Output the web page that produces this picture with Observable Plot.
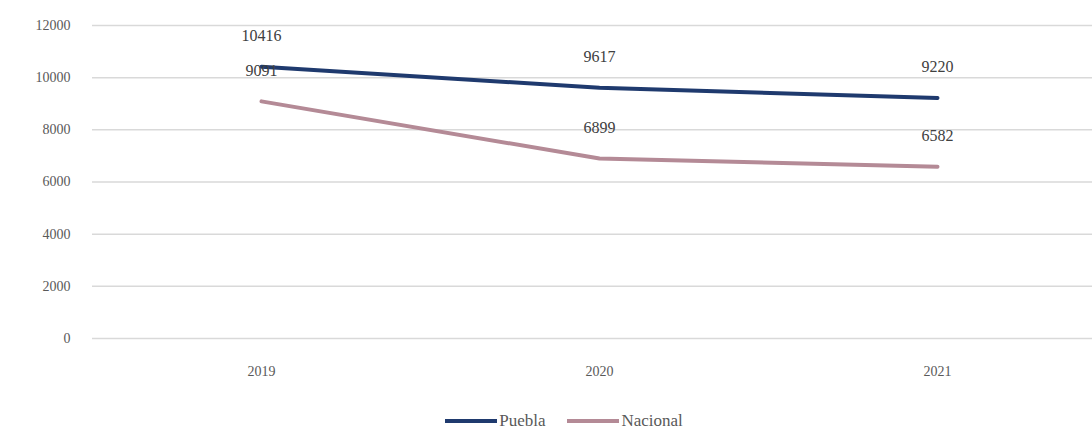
<!DOCTYPE html>
<html><head><meta charset="utf-8">
<script src="https://cdn.jsdelivr.net/npm/d3@7"></script>
<script src="https://cdn.jsdelivr.net/npm/@observablehq/plot@0.6"></script>
<style>
body{margin:0;background:#fff;font-family:"Liberation Serif","DejaVu Serif",serif;}
#legend{display:flex;justify-content:center;align-items:center;gap:22px;height:37px;font-size:17px;color:#595959;padding-left:36px;padding-top:17px}
#legend span.item{display:flex;align-items:center}
#legend span.sw{display:inline-block;width:52px;height:4px;margin-right:2px}
</style></head>
<body><div id="chart"></div><div id="legend"></div>
<script>
const years = ["2019","2020","2021"];
const puebla = [10416, 9617, 9220];
const nacional = [9091, 6899, 6582];
const seriesNames = ["Puebla","Nacional"];
const colors = ["#1f3a6e","#b48a96"];
const yTicks = [0,2000,4000,6000,8000,10000,12000];

const data = [];
years.forEach((y,i)=>{ data.push({year:y, value:puebla[i], s:"Puebla"}); data.push({year:y, value:nacional[i], s:"Nacional"}); });

const chart = Plot.plot({
  width:1092, height:385,
  marginLeft:92, marginRight:-14, marginTop:25, marginBottom:47,
  style:{fontFamily:"Liberation Serif, DejaVu Serif, serif", fontSize:"14px", color:"#595959", background:"#fff"},
  x:{type:"point", domain:years, padding:0.5, label:null},
  y:{domain:[0,12000], ticks:yTicks, label:null},
  color:{domain:seriesNames, range:colors},
  marks:[
    Plot.gridY(yTicks,{stroke:"#d9d9d9", strokeOpacity:1, strokeWidth:1.5}),
    Plot.axisY(yTicks,{tickSize:0, tickPadding:22, tickFormat:d=>String(d), fontSize:14, fill:"#595959"}),
    Plot.axisX({tickSize:0, tickPadding:28, fontSize:14, fill:"#595959"}),
    Plot.line(data,{x:"year", y:"value", z:"s", stroke:"s", strokeWidth:4}),
    Plot.text(data,{x:"year", y:"value", text:d=>String(d.value), dy:-31, fontSize:16, fill:"#404040"})
  ]
});
document.getElementById("chart").appendChild(chart);
const lg = document.getElementById("legend");
seriesNames.forEach((n,i)=>{
  const it=document.createElement("span"); it.className="item";
  const sw=document.createElement("span"); sw.className="sw"; sw.style.background=colors[i];
  it.appendChild(sw); it.appendChild(document.createTextNode(n)); lg.appendChild(it);
});
</script></body></html>
